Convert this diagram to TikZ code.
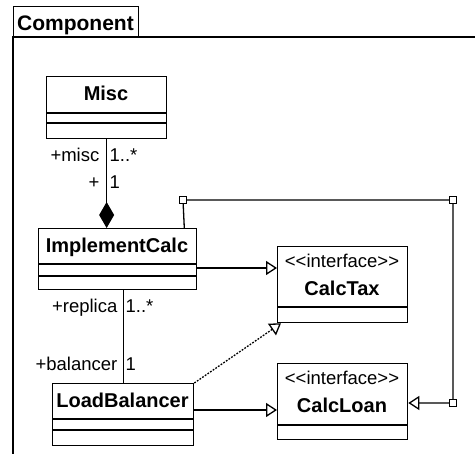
\documentclass[tikz,border=0pt]{standalone}
\usepackage{fontspec}
\setmainfont{Liberation Sans}
\usetikzlibrary{arrows.meta,calc}
\newcommand{\stlt}{\textless\kern0pt\textless\kern0pt}
\newcommand{\stgt}{\kern0pt\textgreater\kern0pt\textgreater}
\begin{document}
\begin{tikzpicture}[x=1pt,y=-1pt, line width=1.3pt,
  cls/.style={draw, rectangle, inner sep=0pt, anchor=north west},
  cname/.style={font=\fontsize{20}{20}\selectfont\bfseries, inner sep=0pt, anchor=base},
  stereo/.style={font=\fontsize{18.5}{18.5}\selectfont, inner sep=0pt, anchor=base},
  lbl/.style={font=\fontsize{18.5}{18.5}\selectfont, inner sep=0pt},
  bendbox/.style={draw, fill=white, rectangle, minimum size=7pt, inner sep=0pt, line width=1pt},
  gen/.style={-{Triangle[open, length=11pt, width=14pt]}},
  comp/.style={-{Diamond[length=26pt, width=15pt]}}]
\useasboundingbox (0,0) rectangle (475,454);
\clip (0,0) rectangle (475,454);
% frame
\draw (13,37) rectangle (490,470);
\node[draw, anchor=north west, minimum width=125pt, minimum height=31pt, inner sep=0pt] (tab) at (13,6) {};
\node[font=\fontsize{21}{21}\selectfont\bfseries, inner sep=0pt, anchor=base west] (tabname) at (16.5,31) {Component};
% classes
\node[cls, minimum width=120pt, minimum height=62pt] (misc) at (46,76) {};
\node[cname] (miscn) at (106,101) {Misc};
\draw ([yshift=-37pt]misc.north west) -- ([yshift=-37pt]misc.north east);
\draw ([yshift=-47pt]misc.north west) -- ([yshift=-47pt]misc.north east);

\node[cls, minimum width=158pt, minimum height=61pt] (ic) at (38,228) {};
\node[cname] (icn) at (117,253) {ImplementCalc};
\draw ([yshift=-36pt]ic.north west) -- ([yshift=-36pt]ic.north east);
\draw ([yshift=-48pt]ic.north west) -- ([yshift=-48pt]ic.north east);

\node[cls, minimum width=141pt, minimum height=62pt] (lb) at (52,383) {};
\node[cname] (lbn) at (122.5,408) {LoadBalancer};
\draw ([yshift=-36pt]lb.north west) -- ([yshift=-36pt]lb.north east);
\draw ([yshift=-47pt]lb.north west) -- ([yshift=-47pt]lb.north east);

\node[cls, minimum width=130pt, minimum height=76pt] (ct) at (277,246) {};
\node[stereo] (cts) at (342,268) {\stlt interface\stgt};
\node[cname] (ctn) at (342,296) {CalcTax};
\draw ([yshift=-61pt]ct.north west) -- ([yshift=-61pt]ct.north east);

\node[cls, minimum width=130pt, minimum height=76pt] (cl) at (277,363) {};
\node[stereo] (cls) at (342,385) {\stlt interface\stgt};
\node[cname] (cln) at (342,413) {CalcLoan};
\draw ([yshift=-62pt]cl.north west) -- ([yshift=-62pt]cl.north east);

% connectors
\draw[comp] (misc.south) -- (misc.south |- ic.north);
\draw (lb.north |- ic.south) -- (lb.north);
\draw[gen] ([yshift=-40pt]ic.north east) coordinate (t1) -- (t1 -| ct.west);
\draw[gen] ([yshift=-27pt]lb.north east) coordinate (t2) -- (t2 -| cl.west);
\draw[gen, dash pattern=on 1.8pt off 1.4pt] (lb.north east) -- ([xshift=4pt]ct.south west);
\coordinate (b1) at (183,200);
\coordinate (b2) at (453,200);
\coordinate (b3) at (453,403);
\draw[gen] ([xshift=-13pt]ic.north east) -- (b1) -- (b2) -- (b3) -- (b3 -| cl.east);
\node[bendbox] (q1) at (b1) {};
\node[bendbox] (q2) at (b2) {};
\node[bendbox] (q3) at (b3) {};
% labels
\node[lbl, anchor=base east] (l1) at (100,162) {+misc};
\node[lbl, anchor=base west] (l2) at (109,162) {1..*};
\node[lbl, anchor=base east] (l3) at (100,189) {+};
\node[lbl, anchor=base west] (l4) at (109,189) {1};
\node[lbl, anchor=base east] (l5) at (118,313) {+replica};
\node[lbl, anchor=base west] (l6) at (125,313) {1..*};
\node[lbl, anchor=base east] (l7) at (118,371) {+balancer};
\node[lbl, anchor=base west] (l8) at (125,371) {1};
\end{tikzpicture}
\end{document}
